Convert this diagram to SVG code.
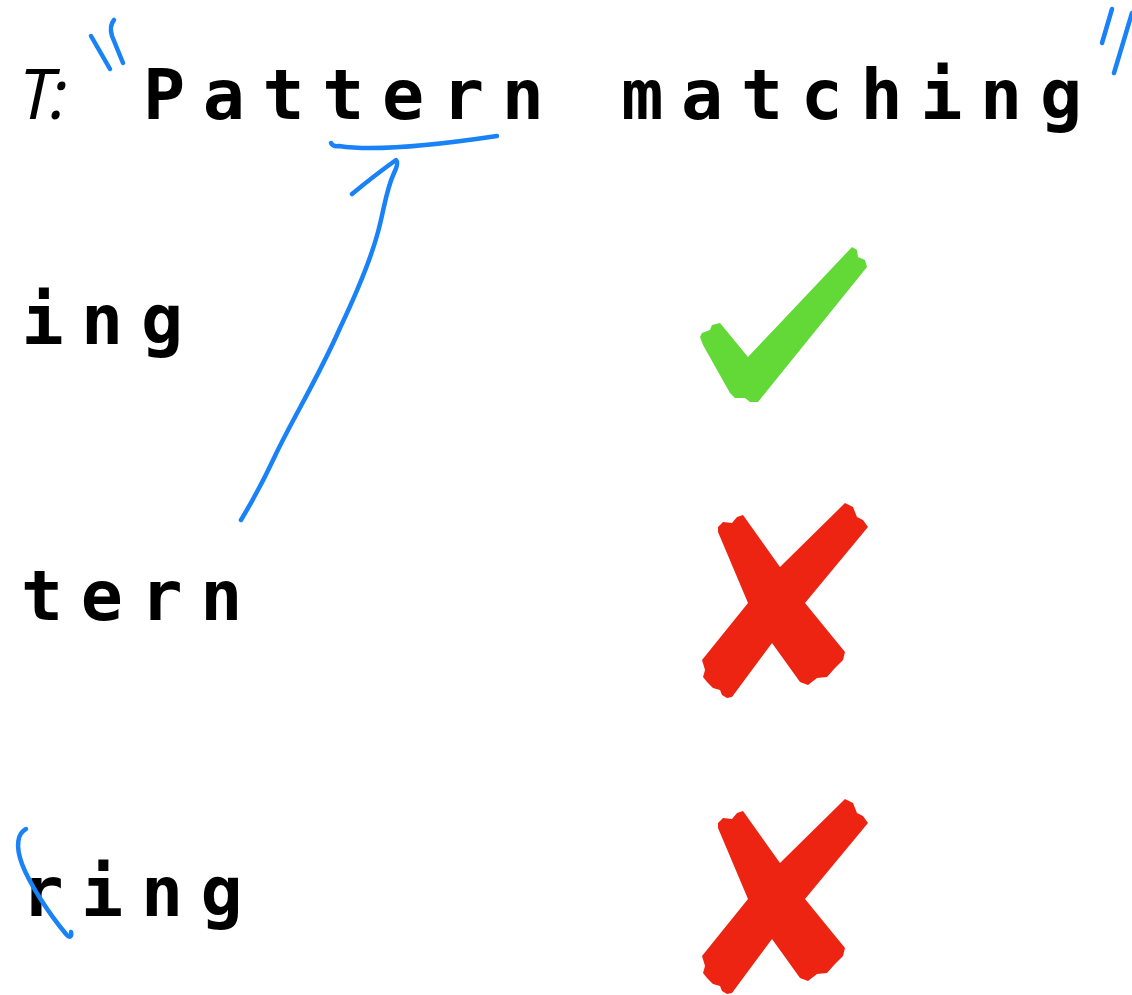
<svg xmlns="http://www.w3.org/2000/svg" width="1132" height="995" viewBox="0 0 1132 995">
<style>
.mono{font-family:"DejaVu Sans Mono","Liberation Mono",monospace;font-weight:bold;font-size:70px;fill:#000;text-anchor:middle}
.lbl{font-family:"Open Sans","DejaVu Sans",sans-serif;font-style:italic;font-size:70px;fill:#000;letter-spacing:-4px}
.ink{fill:none;stroke:#1a82f7;stroke-width:4.5;stroke-linecap:round;stroke-linejoin:round}
.cross{fill:#ee2412}
.check{fill:#63d937}
</style>
<defs>
<polygon id="xmark" points="718,527 723,522 732,523 737,517 743,515 780,567 845,503 853,507 857,517 863,520 868,527 805,603 845,652 843,660 838,665 835,668 827,677 817,678 808,685 800,682 772,643 732,697 727,698 722,695 720,690 713,688 707,682 703,677 705,670 702,660 748,603 718,532"/>
</defs>
<rect width="1132" height="995" fill="#fff"/>
<g id="title">
<text class="lbl" x="19" y="119">T:</text>
<text class="mono" y="119" x="164 223.8 283.6 343.4 403.2 463 522.8 582.6 642.4 702.2 762 821.8 881.6 941.4 1001.2 1061">Pattern matching</text>
</g>
<g id="row-ing">
<text class="mono" y="344" x="42.5 102.2 162">ing</text>
<path id="check" class="check" d="M700,337 L702,333 L710,330 L712,325 L720,323 L748,357 L852,247 L857,250 L858,257 L865,260 L867,267 L758,402 L750,402 L745,398 L735,398 L730,393 L703,345 Z"/>
</g>
<g id="row-tern">
<text class="mono" y="620" x="42 101.8 161.6 221.4">tern</text>
<use class="cross" href="#xmark"/>
</g>
<g id="row-ring">
<text class="mono" y="916" x="42.5 102.2 162 221.7">ring</text>
<use class="cross" href="#xmark" y="296"/>
</g>
<g id="connectors">
<path class="ink" d="M91,36 L110,69"/>
<path class="ink" d="M114,20 Q109,26 112,36 L123,63"/>
<path class="ink" d="M1112,9 L1102,43"/>
<path class="ink" d="M1132,13 L1114,73"/>
<path class="ink" d="M331,143 Q333,147 339,146 C370,151 430,146 497,136"/>
<path class="ink" d="M352,194 Q375,175 396,160 Q399,163 394,173 C386,190 384,210 378,232 C370,262 358,290 340,328 C318,378 292,420 275,456 C262,484 250,505 241,520"/>
<path class="ink" d="M26,829 C18,833 15,845 22,864 C30,885 50,915 66,934 C70,939 72,936 71,932"/>
</g>
</svg>
